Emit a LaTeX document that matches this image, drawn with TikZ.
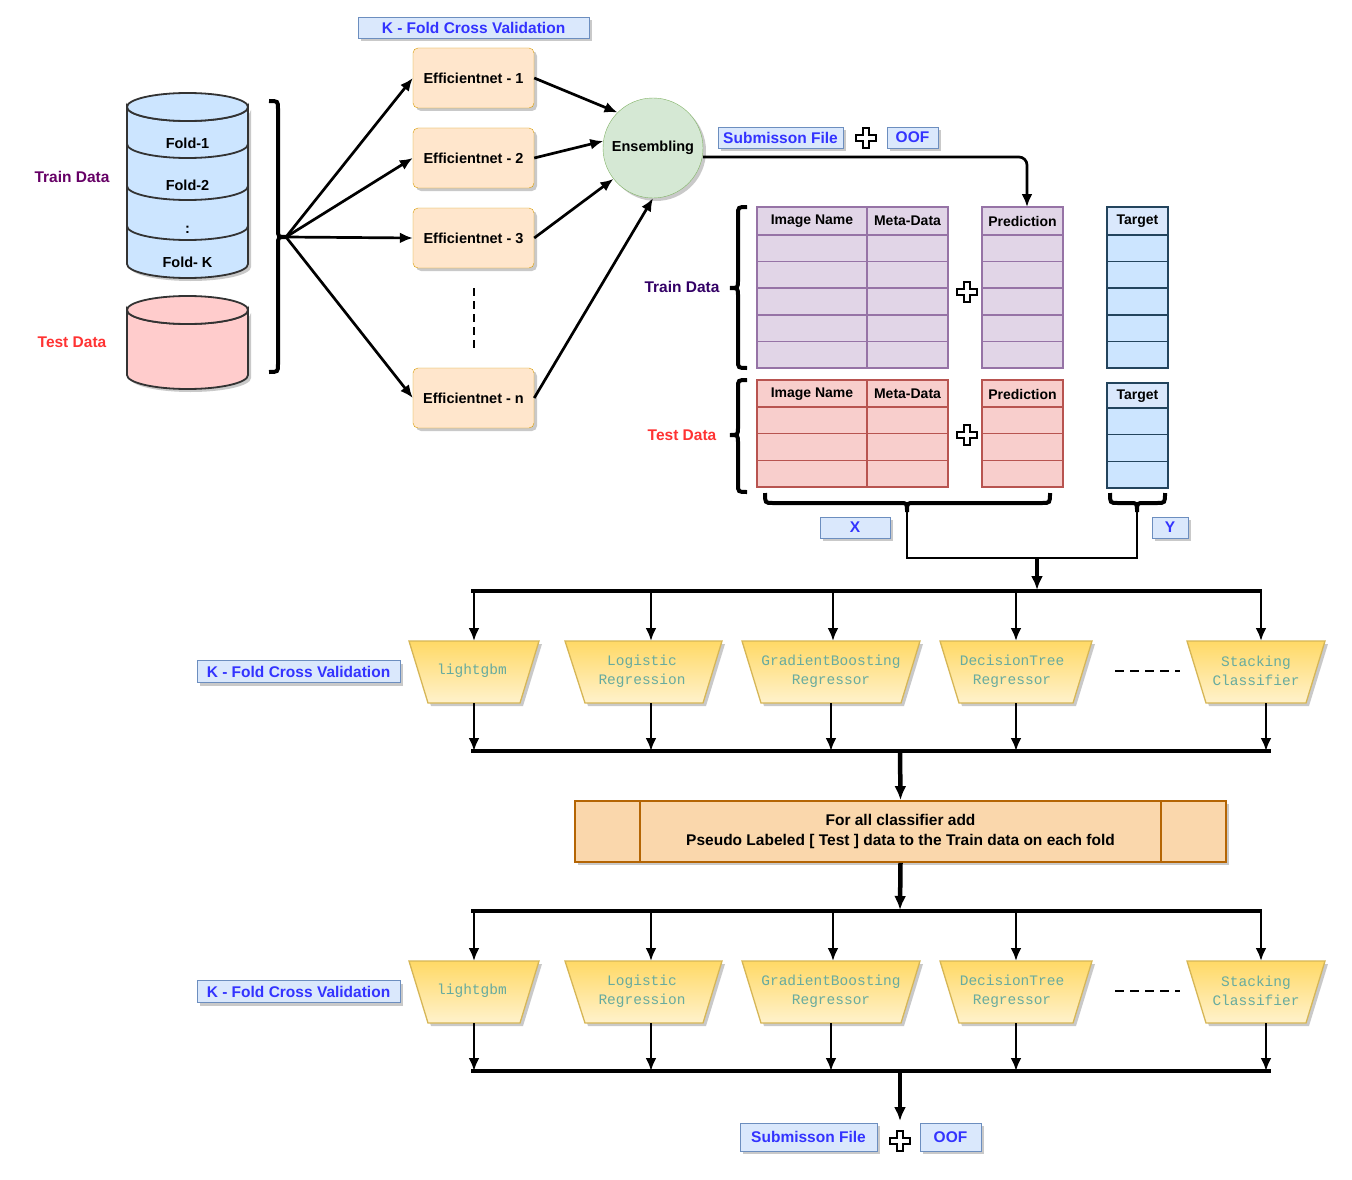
\documentclass[tikz,border=0pt]{standalone}
\usepackage{fontspec}
\setmainfont{Liberation Sans}
\newfontfamily\monof{Liberation Mono}
\usetikzlibrary{arrows.meta,shadows}
\definecolor{lblue}{HTML}{DAE8FC}\definecolor{bblue}{HTML}{6C8EBF}\definecolor{tblue}{HTML}{3333FF}
\definecolor{cylb}{HTML}{CCE5FF}\definecolor{cylr}{HTML}{FFCCCC}
\definecolor{effill}{HTML}{FFE6CC}\definecolor{efdraw}{HTML}{D79B00}
\definecolor{gfill}{HTML}{D5E8D4}\definecolor{gdraw}{HTML}{82B366}
\definecolor{pfill}{HTML}{E1D5E7}\definecolor{pdraw}{HTML}{9673A6}
\definecolor{rfill}{HTML}{F8CECC}\definecolor{rdraw}{HTML}{B85450}
\definecolor{tgdraw}{HTML}{23445D}
\definecolor{ytop}{HTML}{FFD966}\definecolor{ybot}{HTML}{FFF2CC}\definecolor{ydraw}{HTML}{D6B656}
\definecolor{mtext}{HTML}{67AB9F}
\definecolor{ofill}{HTML}{FAD7AC}\definecolor{odraw}{HTML}{B46504}
\definecolor{purp}{HTML}{660066}\definecolor{dpurp}{HTML}{330066}\definecolor{redt}{HTML}{FF3333}
\newcommand\myplus[2]{\draw[line width=1.5pt,fill=white] (#1-3,#2-10) -- (#1+3,#2-10) -- (#1+3,#2-3) -- (#1+10,#2-3) -- (#1+10,#2+3) -- (#1+3,#2+3) -- (#1+3,#2+10) -- (#1-3,#2+10) -- (#1-3,#2+3) -- (#1-10,#2+3) -- (#1-10,#2-3) -- (#1-3,#2-3) -- cycle;}
\newcommand\vbrace[5]{\draw[line width=4pt] (#1-#5*9,#2) .. controls (#1,#2) .. (#1,#2+8) -- (#1,#4-8) .. controls (#1,#4) .. (#1+#5*8,#4) .. controls (#1,#4) .. (#1,#4+8) -- (#1,#3-8) .. controls (#1,#3) .. (#1-#5*9,#3);}
\newcommand\hbrace[4]{\draw[line width=4pt] (#2,#1-10) .. controls (#2,#1) .. (#2+8,#1) -- (#4-7,#1) .. controls (#4,#1) .. (#4,#1+9) .. controls (#4,#1) .. (#4+7,#1) -- (#3-8,#1) .. controls (#3,#1) .. (#3,#1-10);}
\begin{document}
\begin{tikzpicture}[x=1pt,y=-1pt,
 font=\fontsize{14.5}{16}\selectfont\bfseries,
 shad/.style={drop shadow={shadow xshift=3pt,shadow yshift=-3pt,fill=black!35,opacity=.6}},
 lab/.style={draw=bblue,fill=lblue,text=tblue,font=\fontsize{15.5}{17}\selectfont\bfseries,inner sep=0pt,shad},
 eff/.style={draw=efdraw,fill=effill,rounded corners=5pt,minimum width=121pt,minimum height=60pt,inner sep=0pt,shad},
 arr/.style={-{Latex[length=13pt,width=11pt]},line width=2.7pt},
 barr/.style={-{Latex[length=14pt,width=12pt]},line width=4.5pt},
 bus/.style={line width=4pt},
 tz/.style={draw=ydraw,line width=1.3pt,top color=ytop,bottom color=ybot,shad},
 ttext/.style={text=mtext,font=\monof\fontsize{14.5}{19}\selectfont,align=center},
 cell/.style={draw,line width=1.5pt},
 hd/.style={font=\fontsize{14}{15}\selectfont\bfseries},
]
\useasboundingbox (0,0) rectangle (1352,1180);
\fill[white] (0,0) rectangle (1352,1180);

\node[lab,minimum width=231pt,minimum height=21pt] (kf1) at (473.5,27.5) {K - Fold Cross Validation};

\path[fill=cylb,draw=black!80,line width=1.8pt,shad] (127,107) -- (127,264) arc[start angle=180,end angle=0,x radius=60.5,y radius=14] -- (248,107) arc[start angle=0,end angle=180,x radius=60.5,y radius=14] -- cycle;
\draw[line width=1.8pt,draw=black!80,fill=cylb] (187.5,107) ellipse[x radius=60.5,y radius=14];
\foreach \c in {144,186,226}
 \draw[line width=1.8pt,draw=black!80] (127,\c) arc[start angle=180,end angle=0,x radius=60.5,y radius=14];
\node (f1) at (187.5,143) {Fold-1};
\node (f2) at (187.5,185) {Fold-2};
\node (fd) at (187.5,230) {:};
\node (fk) at (187.5,262) {Fold- K};
\path[fill=cylr,draw=black!80,line width=1.8pt,shad] (127,310) -- (127,375) arc[start angle=180,end angle=0,x radius=60.5,y radius=14] -- (248,310) arc[start angle=0,end angle=180,x radius=60.5,y radius=14] -- cycle;
\draw[line width=1.8pt,draw=black!80,fill=cylr] (187.5,310) ellipse[x radius=60.5,y radius=14];
\node[text=purp,font=\fontsize{15.5}{17}\selectfont\bfseries] (trl) at (72,177) {Train Data};
\node[text=redt,font=\fontsize{15.5}{17}\selectfont\bfseries] (tel) at (72,342) {Test Data};

\vbrace{278}{101}{372}{237}{1}
\coordinate (bt) at (286,237);

\node[eff] (e1) at (473.5,78) {Efficientnet - 1};
\node[eff] (e2) at (473.5,158) {Efficientnet - 2};
\node[eff] (e3) at (473.5,238) {Efficientnet - 3};
\node[eff] (en) at (473.5,398) {Efficientnet - n};
\draw[line width=2.7pt,dash pattern=on 8pt off 5pt] (474,288) -- (474,350);
\foreach \e in {e1,e2,e3,en} \draw[arr] (bt) -- (\e.west);

\node[circle,draw=gdraw,fill=gfill,minimum size=100pt,inner sep=0pt,shad] (ens) at (653,148) {Ensembling};
\draw[arr] (e1.east) -- (ens.135);
\draw[arr] (e2.east) -- (ens.172);
\draw[arr] (e3.east) -- (ens.218);
\draw[arr] (en.east) -- (ens.270);

\node[lab,minimum width=125pt,minimum height=21pt] (sf1) at (780.5,137.5) {Submisson File};
\myplus{866}{138}
\node[lab,minimum width=51pt,minimum height=21pt] (oof1) at (912.5,137.5) {OOF};
\coordinate (tp) at (1027,207);
\draw[arr,rounded corners=8pt] (ens.east |- 0,157) -- (1027,157) -- (tp);

\def\tab#1#2#3#4#5#6{%
 \foreach \xa/\xb in {757/867,867/948,982/1063}{
  \foreach \i in {1,...,#3}
   \draw[cell,draw=#6,fill=#5] (\xa,{#1+#2+(\i-1)*#4}) rectangle (\xb,{#1+#2+\i*#4});
  \draw[cell,draw=#6,fill=#5] (\xa,#1) rectangle (\xb,#1+#2);
 }}
\tab{207}{28}{5}{26.6}{pfill}{pdraw}
\tab{380}{27}{3}{26.7}{rfill}{rdraw}
\foreach \y in {235,261.6,288.2,314.8,341.4}
 \draw[cell,draw=tgdraw,fill=cylb] (1107,\y) rectangle (1168,\y+26.6);
\draw[cell,draw=tgdraw,fill=lblue] (1107,207) rectangle (1168,235);
\foreach \y in {408,434.7,461.4}
 \draw[cell,draw=tgdraw,fill=cylb] (1107,\y) rectangle (1168,\y+26.7);
\draw[cell,draw=tgdraw,fill=lblue] (1107,383) rectangle (1168,408);
\node[hd] (h1) at (812,221) {Image Name};
\node[hd] (h2) at (907.5,221) {Meta-Data};
\node[hd] (h3) at (1022.5,221) {Prediction};
\node[hd] (h4) at (1137.5,221) {Target};
\node[hd] (g1) at (812,394) {Image Name};
\node[hd] (g2) at (907.5,394) {Meta-Data};
\node[hd] (g3) at (1022.5,394) {Prediction};
\node[hd] (g4) at (1137.5,396) {Target};
\myplus{967}{292}
\myplus{967}{435}
\vbrace{738}{207}{368}{288}{-1}
\vbrace{738}{380}{492}{435}{-1}
\node[text=dpurp,font=\fontsize{15.5}{17}\selectfont\bfseries] (trl2) at (682,287) {Train Data};
\node[text=redt,font=\fontsize{15.5}{17}\selectfont\bfseries] (tel2) at (682,435) {Test Data};
\hbrace{503}{765}{1050}{907}
\hbrace{503}{1110}{1165}{1137}
\coordinate (xb) at (907,512);\coordinate (yb) at (1137,512);
\node[lab,minimum width=70pt,minimum height=21pt] (xl) at (855,527.5) {X};
\node[lab,minimum width=36pt,minimum height=21pt] (yl) at (1170,527.5) {Y};
\coordinate (jn) at (1037,558);
\draw[line width=2.7pt] (xb) -- (907,558) -- (1137,558) -- (yb);
\draw[barr] (jn) -- (1037,590);

\def\crow#1{%
 \draw[bus] (471,#1+591) -- (1262,#1+591);
 \foreach \x in {474,651,833,1016,1261} \draw[arr] (\x,#1+591) -- (\x,#1+641);
 \foreach \a/\b/\c/\d/\cx/\t in {409/539/428/520/472/lightgbm,565/722/585/703/642/Logistic\\Regression,742/920/761/901/831/GradientBoosting\\Regressor,940/1092/959/1073/1012/DecisionTree\\Regressor,1187/1325/1206/1306/1256/Stacking\\Classifier}{
  \path[tz] (\a,#1+641) -- (\b,#1+641) -- (\d,#1+703) -- (\c,#1+703) -- cycle;
  \node[ttext] at (\cx,#1+671) {\t};
 }
 \draw[line width=2.7pt,dash pattern=on 9pt off 6pt] (1115,#1+671) -- (1180,#1+671);
 \foreach \x in {474,651,831,1016,1266} \draw[arr] (\x,#1+703) -- (\x,#1+751);
 \draw[bus] (471,#1+751) -- (1271,#1+751);
}
\crow{0}
\crow{320}
\node[lab,minimum width=203pt,minimum height=22pt] (kf2) at (298.5,671.5) {K - Fold Cross Validation};
\node[lab,minimum width=203pt,minimum height=22pt] (kf3) at (298.5,991.5) {K - Fold Cross Validation};

\coordinate (b1) at (900,751);
\node[draw=odraw,fill=ofill,line width=1.8pt,minimum width=651pt,minimum height=61pt,inner sep=0pt,align=center,shad,font=\fontsize{15.5}{20}\selectfont\bfseries] (proc) at (900.5,831.5) {For all classifier add\\Pseudo Labeled [ Test ] data to the Train data on each fold};
\draw[draw=odraw,line width=1.8pt] (640,801) -- (640,862) (1161,801) -- (1161,862);
\draw[barr] (b1) -- (proc.north);
\draw[barr] (proc.south) -- (900,910);
\coordinate (b2) at (900,1071);
\node[lab,minimum width=137pt,minimum height=28pt] (sf2) at (808.5,1137) {Submisson File};
\myplus{900}{1141}
\node[lab,minimum width=61pt,minimum height=28pt] (oof2) at (950.5,1137) {OOF};
\draw[barr] (b2) -- (900,1121);
\end{tikzpicture}
\end{document}
